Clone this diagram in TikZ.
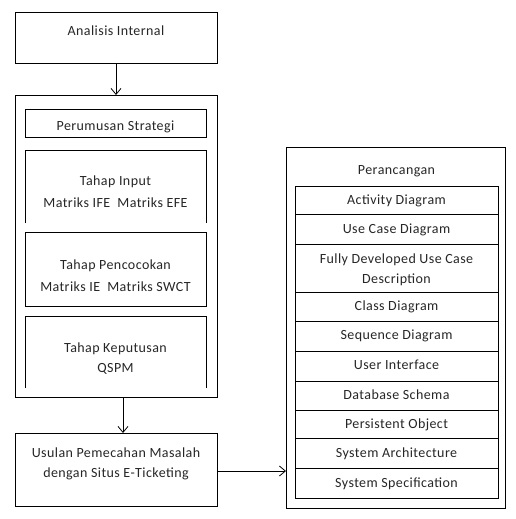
\documentclass[tikz,border=0pt]{standalone}
\usepackage{fontspec}
\setmainfont{Carlito}[LetterSpace=3]
\usetikzlibrary{arrows.meta}
\begin{document}
\begin{tikzpicture}[x=1pt,y=-1pt,
  frame/.style={draw, line width=0.8pt, inner sep=0pt, outer sep=0pt},
  txt/.style={inner sep=0pt, anchor=base, font=\fontsize{14}{20}\selectfont, text=black!85},
  arr/.style={-{Straight Barb[length=6pt,width=10pt]}, line width=0.8pt},
  ln/.style={line width=0.8pt}]
\useasboundingbox (0,0) rectangle (515,519);

% Analisis Internal
\node[frame, minimum width=202pt, minimum height=51pt] (ai) at (116,37.5) {};
\node[txt] (tai) at (116,36) {Analisis Internal};

% big left box
\node[frame, minimum width=202pt, minimum height=302pt] (big) at (116,246) {};
\node[frame, minimum width=181pt, minimum height=28pt] (ps) at (115.5,123) {};
\node[txt] (tps) at (115.5,130) {Perumusan Strategi};

% Tahap Input (open bottom)
\coordinate (ti1) at (25,223);
\coordinate (ti2) at (25,150);
\coordinate (ti3) at (206,150);
\coordinate (ti4) at (206,223);
\draw[ln] (ti1) -- (ti2) -- (ti3) -- (ti4);
\node[txt] (tti1) at (115.5,185) {Tahap Input};
\node[txt] (tti2) at (115.5,207) {Matriks IFE\ \ Matriks EFE};

% Tahap Pencocokan
\node[frame, minimum width=181pt, minimum height=74pt] (tp) at (115.5,269) {};
\node[txt] (ttp1) at (115.5,269) {Tahap Pencocokan};
\node[txt] (ttp2) at (115.5,291) {Matriks IE\ \ Matriks SWCT};

% Tahap Keputusan (open bottom)
\coordinate (tk1) at (25,388);
\coordinate (tk2) at (25,316);
\coordinate (tk3) at (206,316);
\coordinate (tk4) at (206,388);
\draw[ln] (tk1) -- (tk2) -- (tk3) -- (tk4);
\node[txt] (ttk1) at (115.5,352) {Tahap Keputusan};
\node[txt] (ttk2) at (115.5,372) {QSPM};

% Usulan
\node[frame, minimum width=202pt, minimum height=73pt] (us) at (116,469.5) {};
\node[txt] (tus1) at (116,457) {Usulan Pemecahan Masalah};
\node[txt] (tus2) at (116,477) {dengan Situs E-Ticketing};

% Right box
\node[frame, minimum width=219pt, minimum height=361pt] (per) at (395.5,327.5) {};
\node[txt] (tper) at (396.5,174) {Perancangan};

\def\rw{203pt}
\node[frame, minimum width=\rw, minimum height=28pt] (r1) at (396.5,200) {};
\node[frame, minimum width=\rw, minimum height=30pt] (r2) at (396.5,229) {};
\node[frame, minimum width=\rw, minimum height=48pt] (r3) at (396.5,268) {};
\node[frame, minimum width=\rw, minimum height=29pt] (r4) at (396.5,306.5) {};
\node[frame, minimum width=\rw, minimum height=30pt] (r5) at (396.5,336) {};
\node[frame, minimum width=\rw, minimum height=30pt] (r6) at (396.5,366) {};
\node[frame, minimum width=\rw, minimum height=29pt] (r7) at (396.5,395.5) {};
\node[frame, minimum width=\rw, minimum height=28pt] (r8) at (396.5,424) {};
\node[frame, minimum width=\rw, minimum height=30pt] (r9) at (396.5,453) {};
\node[frame, minimum width=\rw, minimum height=30pt] (r10) at (396.5,483) {};

\node[txt] (t1) at (396.5,204) {Activity Diagram};
\node[txt] (t2) at (396.5,233) {Use Case Diagram};
\node[txt] (t3a) at (396.5,263) {Fully Developed Use Case};
\node[txt] (t3b) at (396.5,283) {Description};
\node[txt] (t4) at (396.5,310) {Class Diagram};
\node[txt] (t5) at (396.5,339.5) {Sequence Diagram};
\node[txt] (t6) at (396.5,369.5) {User Interface};
\node[txt] (t7) at (396.5,399) {Database Schema};
\node[txt] (t8) at (396.5,428) {Persistent Object};
\node[txt] (t9) at (396.5,457.5) {System Architecture};
\node[txt] (t10) at (396.5,487) {System Specification};

% connectors
\draw[arr] (ai.south) -- (big.north);
\coordinate (b2) at ([xshift=7pt]big.south);
\draw[arr] (b2) -- (b2 |- us.north);
\coordinate (u2) at ([yshift=-1.5pt]us.east);
\draw[arr] (u2) -- (u2 -| per.west);
\end{tikzpicture}
\end{document}
